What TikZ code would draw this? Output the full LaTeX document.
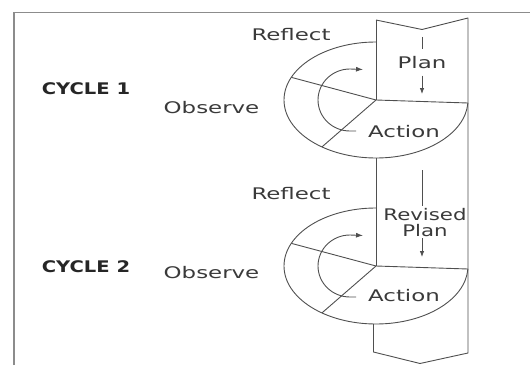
\documentclass[tikz,border=0pt]{standalone}
\usepackage{fontspec}
\setmainfont{DejaVu Sans}
\usetikzlibrary{arrows.meta,calc}
\definecolor{lnc}{HTML}{4F4F4F}
\definecolor{tx}{HTML}{3A3A3A}
\definecolor{cyt}{HTML}{262626}
\definecolor{fr}{HTML}{8C8C8C}
\begin{document}
\begin{tikzpicture}[x=1pt,y=1pt,
  ln/.style={draw=lnc, line width=0.9pt, line join=round},
  lbl/.style={font=\fontsize{16}{16}\selectfont, text=tx, anchor=base, inner sep=0pt, xscale=1.43},
  lblrev/.style={font=\fontsize{16}{16}\selectfont, text=tx, anchor=base, inner sep=0pt, xscale=1.33, align=center},
  cyc/.style={font=\fontsize{16}{16}\selectfont\bfseries, text=cyt, anchor=base, inner sep=0pt, xscale=1.22},
  parr/.style={draw=lnc, line width=0.8pt, -{Latex[length=6pt,width=4.5pt]}},
  carr/.style={draw=lnc, line width=0.9pt, -{Latex[length=7pt,width=5pt]}}]
\useasboundingbox (0,0) rectangle (530,365);
% frame
\draw[fr, line width=1.3pt] (14,0) -- (14,352.5) -- (530,352.5);
% column outline
\coordinate (TL) at (376,345);
\coordinate (TM) at (422,335.5);
\coordinate (TR) at (468,347);
\coordinate (BR) at (468,12);
\coordinate (BM) at (420,1.5);
\coordinate (BL) at (373.5,13);
\coordinate (BLt) at (373.5,41.1);
\draw[ln] (TL) -- (TM) -- (TR) -- (BR) -- (BM) -- (BL) -- (BLt);
% ---------- cycle 1 ----------
\coordinate (J1) at (376,265);
\coordinate (T1) at (376,323);
\coordinate (B1) at (376,207);
\coordinate (R1) at (468,262);
\draw[ln] (TL) -- (J1);
\draw[ln] (T1) arc[start angle=90, end angle=357, x radius=92, y radius=58];
\draw[ln] (J1) -- (R1);
\draw[ln] (J1) -- ($(J1)+(157:92pt and 58pt)$);
\draw[ln] (J1) -- ($(J1)+(234:92pt and 58pt)$);
\coordinate (s1) at (356,234);
\coordinate (e1) at (363,295.5);
\draw[carr] (s1) -- (350,234) arc[start angle=-90, end angle=-270, x radius=32, y radius=31] -- (e1);
\node[cyc] (cycle1) at (86,270) {CYCLE 1};
\node[lbl] (reflect1) at (291,324.3) {Reflect};
\node[lbl] (observe1) at (211.5,251.7) {Observe};
\node[lbl] (action1) at (404,228) {Action};
\node[lbl, inner ysep=7pt] (plan1) at (422,296.7) {Plan};
\coordinate (pa1) at (422,328);
\coordinate (pb1) at (422,271);
\draw[draw=lnc, line width=0.8pt] (pa1) -- (plan1.north);
\draw[parr] (plan1.south) -- (pb1);
% ---------- cycle 2 ----------
\draw[ln] (B1) -- (376,99);
\coordinate (J2) at (376,99);
\coordinate (T2) at (376,157);
\coordinate (R2) at (468,96);
\draw[ln] (T2) arc[start angle=90, end angle=357, x radius=92, y radius=58];
\draw[ln] (J2) -- (R2);
\draw[ln] (J2) -- ($(J2)+(157:92pt and 58pt)$);
\draw[ln] (J2) -- ($(J2)+(234:92pt and 58pt)$);
\coordinate (s2) at (356,68);
\coordinate (e2) at (363,129.5);
\draw[carr] (s2) -- (350,68) arc[start angle=-90, end angle=-270, x radius=32, y radius=31] -- (e2);
\node[cyc] (cycle2) at (86,92.5) {CYCLE 2};
\node[lbl] (reflect2) at (291,166) {Reflect};
\node[lbl] (observe2) at (211.5,86.5) {Observe};
\node[lbl] (action2) at (404,64) {Action};
\node[lblrev, inner ysep=2pt] (plan2) at (425,129) {Revised\\Plan};
\coordinate (pa2) at (422,195);
\coordinate (pb2) at (422,108);
\draw[draw=lnc, line width=0.8pt] (pa2) -- (pa2 |- plan2.north);
\draw[parr] (pa2 |- plan2.south) -- (pb2);
\end{tikzpicture}
\end{document}
